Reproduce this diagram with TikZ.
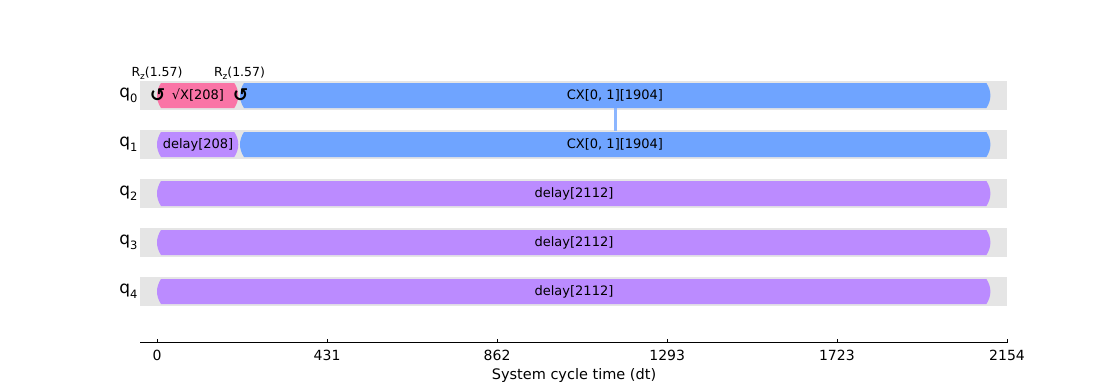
\documentclass[tikz,border=0pt]{standalone}
\usepackage{fontspec}
\setmainfont{DejaVu Sans}
\newfontfamily\symfont{DejaVu Sans Bold}
\definecolor{slot}{HTML}{E5E5E5}
\definecolor{sxcol}{HTML}{FA74A6}
\definecolor{cxcol}{HTML}{6FA4FF}
\definecolor{dlcol}{HTML}{BB8BFF}
\definecolor{linkcol}{HTML}{8CB6FF}
\newcommand{\gbar}[4]{%
  \fill[#4] (#1+4,#3-12.5) -- (#2-4,#3-12.5)
    .. controls (#2+1.33,#3-4.2) and (#2+1.33,#3+4.2) .. (#2-4,#3+12.5)
    -- (#1+4,#3+12.5)
    .. controls (#1-1.33,#3+4.2) and (#1-1.33,#3-4.2) .. cycle;}
\newcommand{\qlab}[1]{q\raisebox{-0.28em}{\fontsize{11.5}{12}\selectfont #1}}
\newcommand{\rzlab}{R\raisebox{-0.22em}{\fontsize{9}{9}\selectfont z}(1.57)}
\begin{document}
\begin{tikzpicture}[x=1pt,y=-1pt,
  qtext/.style={inner sep=0pt,anchor=center,font=\fontsize{17}{19}\selectfont},
  gtext/.style={inner sep=0pt,anchor=center,font=\fontsize{13}{15}\selectfont},
  ticktext/.style={inner sep=0pt,anchor=center,font=\fontsize{14}{16}\selectfont},
  rztext/.style={inner sep=0pt,anchor=center,font=\fontsize{12.5}{14}\selectfont},
  rzsym/.style={inner sep=0pt,anchor=center,font=\symfont\fontsize{18.5}{20}\selectfont},
  link/.style={draw=linkcol,line width=3pt},
  axisline/.style={draw=black,line width=0.9pt}]
\useasboundingbox (0,0) rectangle (1120,384);
\fill[white] (0,0) rectangle (1120,384);
% time slots
\foreach \y in {95.5,144.5,193.5,242.5,291.5}
  \fill[slot] (140,\y-14.5) rectangle (1007,\y+14.5);
% qubit labels
\node[qtext] (q0) at (128.5,95) {\qlab{0}};
\node[qtext] (q1) at (128.5,144) {\qlab{1}};
\node[qtext] (q2) at (128.5,193) {\qlab{2}};
\node[qtext] (q3) at (128.5,242) {\qlab{3}};
\node[qtext] (q4) at (128.5,291) {\qlab{4}};
% CX link
\coordinate (cxa) at (615.3,108);
\coordinate (cxb) at (615.3,131);
\draw[link] (cxa) -- (cxb);
% gates
\gbar{157}{238.3}{95.5}{sxcol}
\gbar{240}{990.4}{95.5}{cxcol}
\gbar{157}{238.3}{144.5}{dlcol}
\gbar{240}{990.4}{144.5}{cxcol}
\gbar{157}{990.4}{193.5}{dlcol}
\gbar{157}{990.4}{242.5}{dlcol}
\gbar{157}{990.4}{291.5}{dlcol}
\node[gtext] (g0a) at (198,95.5) {√X[208]};
\node[gtext] (g0b) at (615,95.5) {CX[0, 1][1904]};
\node[gtext] (g1a) at (198,144.5) {delay[208]};
\node[gtext] (g1b) at (615,144.5) {CX[0, 1][1904]};
\node[gtext] (g2) at (574,193.5) {delay[2112]};
\node[gtext] (g3) at (574,242.5) {delay[2112]};
\node[gtext] (g4) at (574,291.5) {delay[2112]};
% Rz frame changes
\node[rzsym] (rs1) at (157.5,95) {↺};
\node[rzsym] (rs2) at (240.5,95) {↺};
\node[rztext] (rz1) at (157,73.5) {\rzlab};
\node[rztext] (rz2) at (239.5,73.5) {\rzlab};
% axis
\coordinate (axl) at (140,342.5);
\coordinate (axr) at (1007,342.5);
\draw[axisline] (axl) -- (axr);
\foreach \x/\lab in {157/0,327.1/431,497.1/862,667.2/1293,836.9/1723,1007/2154}{
  \draw[axisline,line width=0.8pt] (\x,342.5) -- (\x,338.5);
  \node[ticktext] at (\x,355.5) {\lab};
}
\node[inner sep=0pt,anchor=center,font=\fontsize{14.5}{16}\selectfont] (xlab) at (574,375) {System cycle time (dt)};
\end{tikzpicture}
\end{document}
